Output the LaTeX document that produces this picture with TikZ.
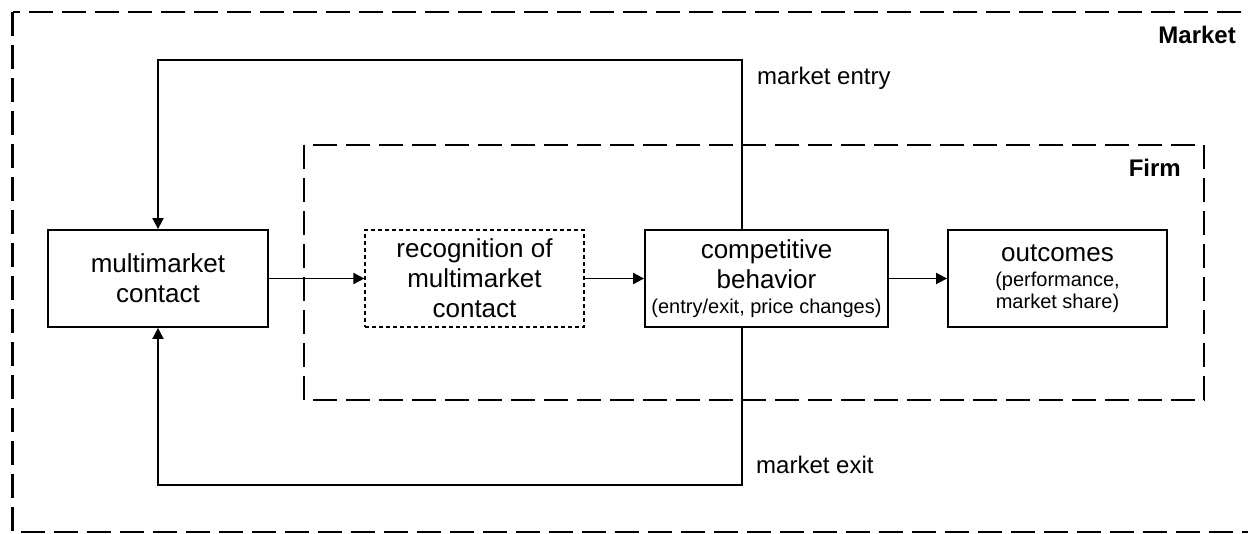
\documentclass[tikz,border=0pt]{standalone}
\usepackage{fontspec}
\setmainfont{Liberation Sans}
\usetikzlibrary{arrows.meta}
\newcommand{\smalltxt}{\fontsize{20}{24}\selectfont}
\begin{document}
\begin{tikzpicture}[x=1pt,y=-1pt,
  bigdash/.style={line width=2.8pt,dash pattern=on 24pt off 9pt},
  box/.style={draw,line width=1.8pt,minimum height=97pt,inner sep=0pt,align=center,
    font=\fontsize{26}{30}\selectfont},
  dbox/.style={box,line width=1.2pt,dash pattern=on 4pt off 3pt},
  conn/.style={line width=1.8pt},
  arr/.style={conn,-{Triangle[length=11pt,width=11pt]}},
  lbl/.style={inner sep=0pt,font=\fontsize{24}{28}\selectfont},
  blbl/.style={inner sep=0pt,font=\fontsize{24}{28}\selectfont\bfseries}]
\useasboundingbox (0,0) rectangle (1248,533);
\fill[white] (0,0) rectangle (1248,533);
% outer market box
\draw[bigdash] (12.7,12) rectangle (1262,532);
% firm box
\draw[bigdash] (304,145) rectangle (1204,400);
\node[blbl,anchor=base east] (market) at (1236,43) {Market};
\node[blbl,anchor=base east] (firm) at (1181,176) {Firm};
% boxes
\node[box,minimum width=220pt] (mm) at (158,278.5) {multimarket\\contact};
\node[dbox,minimum width=219pt] (rec) at (474.5,278.5) {recognition of\\multimarket\\contact};
\node[box,minimum width=243pt] (comp) at (766.5,278.5) {competitive\\behavior\\[-5pt]{\smalltxt (entry/exit, price changes)}};
\node[box,minimum width=219pt] (out) at (1057.5,278.5) {outcomes\\[-5pt]{\smalltxt (performance,}\\[-8pt]{\smalltxt market share)}};
% arrows
\draw[arr] (mm.east) -- (rec.west);
\draw[arr] (rec.east) -- (comp.west);
\draw[arr] (comp.east) -- (out.west);
% feedback loops
\coordinate (tp) at (742,60);
\coordinate (bp) at (742,485);
\draw[arr] (tp |- comp.north) -- (tp) -| (mm.north);
\draw[arr] (bp |- comp.south) -- (bp) -| (mm.south);
\node[lbl,anchor=base west] (entry) at (757,84) {market entry};
\node[lbl,anchor=base west] (exit) at (756,473) {market exit};
\end{tikzpicture}
\end{document}
